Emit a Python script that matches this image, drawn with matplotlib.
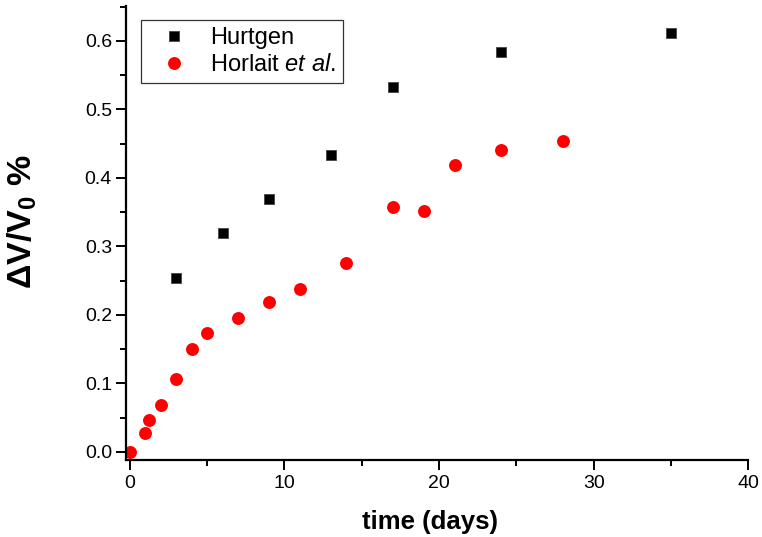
import matplotlib
matplotlib.use('Agg')
import matplotlib.pyplot as plt
from matplotlib.ticker import MultipleLocator

plt.rcParams['font.family'] = ['Liberation Sans', 'DejaVu Sans']
plt.rcParams['mathtext.fontset'] = 'custom'
plt.rcParams['mathtext.rm'] = 'Liberation Sans'
plt.rcParams['mathtext.it'] = 'Liberation Sans:italic'
plt.rcParams['mathtext.bf'] = 'Liberation Sans:bold'

# Hurtgen data
hurtgen_days = [3, 6, 9, 13, 17, 24, 35]
hurtgen_dv = [0.253, 0.319, 0.369, 0.433, 0.533, 0.584, 0.612]

# Horlait et al. data
horlait_days = [0, 1, 1.25, 2, 3, 4, 5, 7, 9, 11, 14, 17, 19, 21, 24, 28]
horlait_dv = [0.0, 0.027, 0.047, 0.068, 0.106, 0.150, 0.174, 0.195,
              0.219, 0.237, 0.275, 0.357, 0.351, 0.419, 0.440, 0.454]

fig = plt.figure(figsize=(7.62, 5.37), dpi=100)
ax = fig.add_axes([0.166, 0.1434, 0.816, 0.8456])

ax.plot(hurtgen_days, hurtgen_dv, 's', color='black', markersize=7.8,
        markeredgewidth=0.6, markeredgecolor='#444444', label='Hurtgen')
ax.plot(horlait_days, horlait_dv, 'o', color='#ff0000', markersize=9.3,
        markeredgewidth=0, label=r'Horlait $\mathit{et\ al}$.')

ax.set_xlim(-0.22, 40)
ax.set_ylim(-0.012, 0.651)

ax.spines['top'].set_visible(False)
ax.spines['right'].set_visible(False)
ax.spines['left'].set_linewidth(1.6)
ax.spines['bottom'].set_linewidth(1.6)

ax.xaxis.set_major_locator(MultipleLocator(10))
ax.xaxis.set_minor_locator(MultipleLocator(5))
ax.yaxis.set_major_locator(MultipleLocator(0.1))
ax.yaxis.set_minor_locator(MultipleLocator(0.05))
ax.tick_params(which='major', direction='out', length=7, width=1.4, labelsize=14)
ax.tick_params(which='minor', direction='out', length=4, width=1.4)
ax.set_yticklabels([f'{v:.1f}' for v in ax.get_yticks()])

ax.set_xlabel('time (days)', fontsize=18.5, fontweight='bold')
ax.xaxis.set_label_coords(0.488, -0.11)
ax.set_ylabel(r'$\mathbf{\Delta V/V_0}$ %', fontsize=24.5, fontweight='bold')
ax.yaxis.set_label_coords(-0.14, 0.525)

leg = ax.legend(loc='upper left', bbox_to_anchor=(0.004, 0.995), fontsize=17,
                frameon=True, fancybox=False, edgecolor='black',
                borderpad=0.3, handletextpad=0.45, labelspacing=0.2,
                handlelength=2.2)
leg.get_frame().set_linewidth(0.9)

fig.savefig('out.png', dpi=100)
